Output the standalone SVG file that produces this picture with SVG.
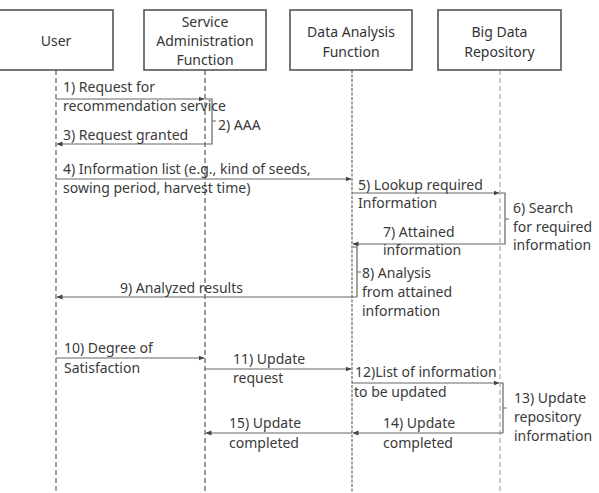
<svg xmlns="http://www.w3.org/2000/svg" width="599" height="493" viewBox="0 0 599 493">
<style>
.box{fill:#fff;stroke:#555;stroke-width:1.6}
.bt{font-family:"Noto Sans",sans-serif;font-size:14px;fill:#333;text-anchor:middle}
.t{font-family:"Noto Sans",sans-serif;font-size:14px;fill:#3a3a3a}
.life{fill:none;stroke-width:1.2}
.msg{fill:none;stroke:#666;stroke-width:1.2}
.br{fill:none;stroke:#666;stroke-width:1.2}
</style>
<defs>
<marker id="ah" markerWidth="6" markerHeight="6" refX="5.5" refY="3" orient="auto" markerUnits="userSpaceOnUse">
<path d="M0,0.5 L6,3 L0,5.5 Z" fill="#444"/>
</marker>
</defs>
<rect width="599" height="493" fill="#fff"/>
<g id="lifelines">
<line class="life" x1="56" y1="70" x2="56" y2="493" stroke="#666" stroke-dasharray="5,3"/>
<line class="life" x1="205" y1="70" x2="205" y2="493" stroke="#555" stroke-dasharray="5,3"/>
<line class="life" x1="352" y1="70" x2="352" y2="493" stroke="#666" stroke-dasharray="3,1.5" stroke-width="1.6"/>
<line class="life" x1="500" y1="70" x2="500" y2="493" stroke="#aaa" stroke-dasharray="5,3"/>
</g>
<g id="node-user">
<rect class="box" x="-1" y="10" width="114" height="60"/>
<text class="bt" x="56" y="46">User</text>
</g>
<g id="node-service">
<rect class="box" x="144" y="10" width="122" height="60"/>
<text class="bt" x="205" y="27">Service</text>
<text class="bt" x="205" y="46">Administration</text>
<text class="bt" x="205" y="65">Function</text>
</g>
<g id="node-analysis">
<rect class="box" x="290" y="10" width="122" height="60"/>
<text class="bt" x="351" y="37">Data Analysis</text>
<text class="bt" x="351" y="57">Function</text>
</g>
<g id="node-repository">
<rect class="box" x="438" y="10" width="123" height="60"/>
<text class="bt" x="499.5" y="37">Big Data</text>
<text class="bt" x="499.5" y="57">Repository</text>
</g>
<g id="connectors">
<line class="msg" x1="56" y1="99" x2="204" y2="99" marker-end="url(#ah)"/>
<path class="br" d="M205,99 H212 V144 H205 M212,121 H216"/>
<line class="msg" x1="205" y1="144" x2="57" y2="144" marker-end="url(#ah)"/>
<line class="msg" x1="56" y1="179" x2="351" y2="179" marker-end="url(#ah)"/>
<line class="msg" x1="352" y1="193" x2="499" y2="193" marker-end="url(#ah)"/>
<path class="br" d="M500,193 H505 V244 H500 M505,219 H509"/>
<line class="msg" x1="500" y1="244" x2="353" y2="244" marker-end="url(#ah)"/>
<path class="br" d="M353,247 H357 V297 M357,272 H361"/>
<line class="msg" x1="357" y1="297" x2="57" y2="297" marker-end="url(#ah)"/>
<line class="msg" x1="56" y1="358" x2="204" y2="358" marker-end="url(#ah)"/>
<line class="msg" x1="205" y1="369" x2="351" y2="369" marker-end="url(#ah)"/>
<line class="msg" x1="352" y1="383" x2="499" y2="383" marker-end="url(#ah)"/>
<path class="br" d="M500,383 H503 V433 M503,408 H507"/>
<line class="msg" x1="503" y1="433" x2="353" y2="433" marker-end="url(#ah)"/>
<line class="msg" x1="352" y1="433" x2="206" y2="433" marker-end="url(#ah)"/>
</g>
<g id="labels">
<text class="t" x="63" y="92">1) Request for</text>
<text class="t" x="63" y="111">recommendation service</text>
<text class="t" x="218" y="130">2) AAA</text>
<text class="t" x="63" y="140">3) Request granted</text>
<text class="t" x="63" y="174">4) Information list (e.g., kind of seeds,</text>
<text class="t" x="63" y="193">sowing period, harvest time)</text>
<text class="t" x="358" y="190">5) Lookup required</text>
<text class="t" x="358" y="208">Information</text>
<text class="t" x="513" y="213">6) Search</text>
<text class="t" x="513" y="232">for required</text>
<text class="t" x="513" y="250">information</text>
<text class="t" x="383" y="237">7) Attained</text>
<text class="t" x="383" y="255">information</text>
<text class="t" x="362" y="278">8) Analysis</text>
<text class="t" x="362" y="297">from attained</text>
<text class="t" x="362" y="316">information</text>
<text class="t" x="120" y="293">9) Analyzed results</text>
<text class="t" x="64" y="353">10) Degree of</text>
<text class="t" x="64" y="373">Satisfaction</text>
<text class="t" x="233" y="364">11) Update</text>
<text class="t" x="233" y="383">request</text>
<text class="t" x="355" y="377">12)List of information</text>
<text class="t" x="354" y="397">to be updated</text>
<text class="t" x="514" y="403">13) Update</text>
<text class="t" x="514" y="422">repository</text>
<text class="t" x="514" y="441">information</text>
<text class="t" x="383" y="428">14) Update</text>
<text class="t" x="383" y="448">completed</text>
<text class="t" x="229" y="428">15) Update</text>
<text class="t" x="229" y="448">completed</text>
</g>
</svg>
